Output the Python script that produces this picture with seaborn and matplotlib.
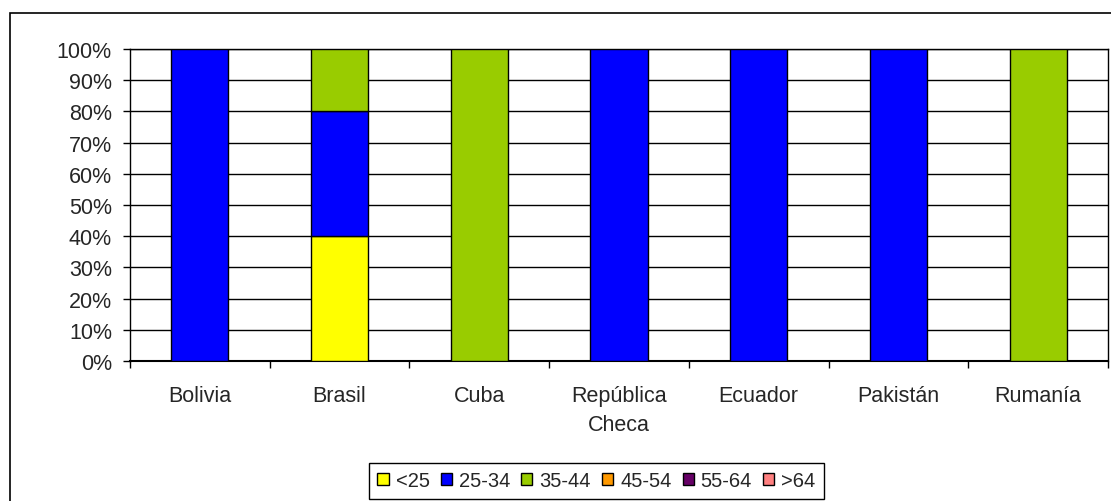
import pandas as pd
import matplotlib.pyplot as plt
import seaborn as sns
from matplotlib.patches import Patch, Rectangle
from matplotlib.ticker import FixedLocator

paises = ['Bolivia', 'Brasil', 'Cuba', 'República\nCheca', 'Ecuador', 'Pakistán', 'Rumanía']
grupos = ['<25', '25-34', '35-44', '45-54', '55-64', '>64']
colores = ['#FFFF00', '#0000FF', '#99CC00', '#FF9900', '#660066', '#FF8080']

# porcentaje por grupo de edad para cada pais
menor25 = [0, 40, 0, 0, 0, 0, 0]
g25_34 = [100, 40, 0, 100, 100, 100, 0]
g35_44 = [0, 20, 100, 0, 0, 0, 100]
g45_54 = [0, 0, 0, 0, 0, 0, 0]
g55_64 = [0, 0, 0, 0, 0, 0, 0]
mayor64 = [0, 0, 0, 0, 0, 0, 0]

valores = [menor25, g25_34, g35_44, g45_54, g55_64, mayor64]

sns.set_style('white')
plt.rcParams['font.family'] = ['Liberation Sans', 'DejaVu Sans']
plt.rcParams['font.size'] = 15.5

fig = plt.figure(figsize=(11.11, 5.02), dpi=100)
ax = fig.add_axes([130 / 1111, 1 - 362 / 502, (1108 - 130) / 1111, (362 - 50) / 502])

base = [0] * len(paises)
for grupo, vals, color in zip(grupos, valores, colores):
    df = pd.DataFrame({'pais': paises, 'valor': vals, 'base': base})
    df = df[df['valor'] > 0]
    if len(df):
        sns.barplot(data=df, x='pais', y='valor', order=paises, bottom=df['base'].values,
                    color=color, width=0.41, edgecolor='black', linewidth=1,
                    errorbar=None, saturation=1, ax=ax, zorder=3)
    base = [b + v for b, v in zip(base, vals)]

ax.set_xlim(-0.5, len(paises) - 0.5)
ax.set_ylim(0, 100)
ax.set_yticks(range(0, 101, 10))
ax.set_yticklabels([f'{v}%' for v in range(0, 101, 10)])
ax.yaxis.grid(True, color='black', linewidth=1)
ax.set_axisbelow(True)
ax.set_xlabel('')
ax.set_ylabel('')

ax.set_xticks(range(len(paises)))
ax.set_xticklabels(paises, linespacing=1.5)
ax.xaxis.set_minor_locator(FixedLocator([i - 0.5 for i in range(len(paises) + 1)]))
ax.tick_params(axis='x', which='major', length=0, pad=17)
ax.tick_params(axis='x', which='minor', length=5, width=1, color='black', bottom=True)
ax.tick_params(axis='y', length=5, width=1, color='black', left=True, pad=8)

for s in ax.spines.values():
    s.set_visible(True)
    s.set_color('black')
    s.set_linewidth(1)
ax.spines['bottom'].set_linewidth(1.5)

handles = [Patch(facecolor=c, edgecolor='black', linewidth=1, label=g) for g, c in zip(grupos, colores)]
leg = fig.legend(handles=handles, loc='center', bbox_to_anchor=(596.5 / 1111, 1 - 482 / 502),
                 ncol=6, fontsize=14.5, handlelength=0.55, handleheight=0.55, handletextpad=0.35,
                 columnspacing=0.55, borderpad=0.4, fancybox=False, framealpha=1)
leg.get_frame().set_edgecolor('black')
leg.get_frame().set_linewidth(1)

fig.add_artist(Rectangle((10 / 1111, -0.1), 1.2, 1 - 14 / 502 + 0.1, transform=fig.transFigure,
                         fill=False, edgecolor='black', linewidth=1.2))

fig.savefig('out.png', dpi=100)
